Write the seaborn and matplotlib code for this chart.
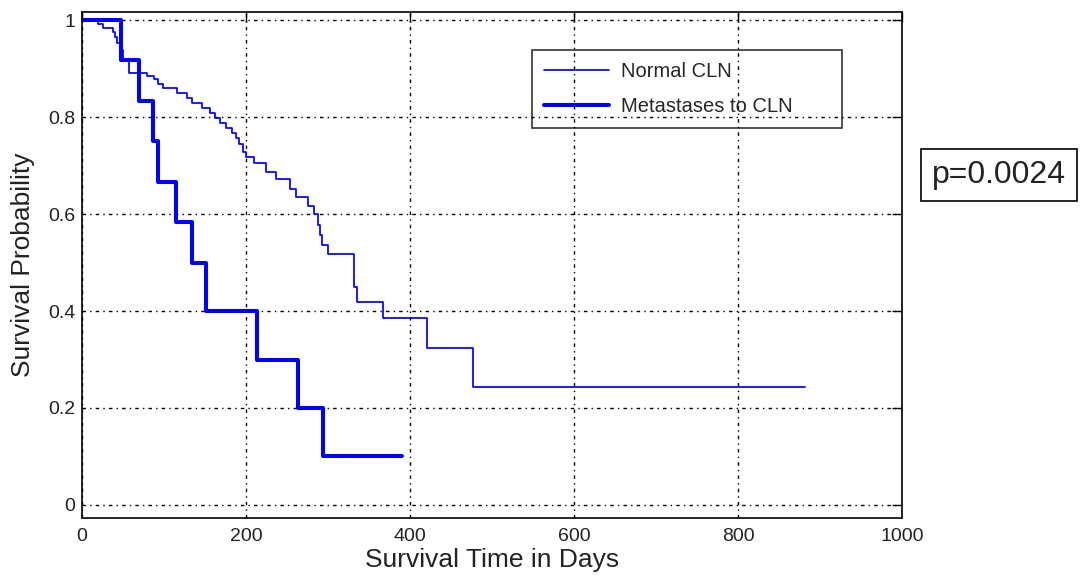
"""
Kaplan-Meier survival curves: normal CLN vs metastases to CLN.
Step values read off the reference chart.
"""

import matplotlib
matplotlib.use("Agg")
import matplotlib.pyplot as plt
import pandas as pd
import seaborn as sns

# Normal CLN: day of each drop and survival after it (last point = end of follow-up)
NORMAL_DAYS = [0, 20, 26, 38, 40, 43, 46, 50, 57, 79, 88, 93, 99, 116, 128, 134,
               146, 156, 162, 168, 176, 183, 188, 191, 196, 200, 210, 224, 237,
               254, 261, 276, 283, 288, 290, 293, 300, 332, 335, 367, 421, 477, 882]
NORMAL_SURV = [1.0, 0.992, 0.984, 0.975, 0.965, 0.953, 0.938, 0.918, 0.891, 0.885,
               0.878, 0.868, 0.860, 0.849, 0.839, 0.829, 0.819, 0.808, 0.798, 0.788,
               0.777, 0.767, 0.757, 0.744, 0.728, 0.718, 0.705, 0.687, 0.672, 0.652,
               0.635, 0.616, 0.600, 0.577, 0.557, 0.536, 0.517, 0.449, 0.419, 0.386,
               0.324, 0.243, 0.243]

# Metastases to CLN
MET_DAYS = [0, 48, 70, 86, 93, 115, 134, 151, 213, 263, 294, 390]
MET_SURV = [1.0, 0.917, 0.833, 0.75, 0.667, 0.583, 0.5, 0.4, 0.3, 0.2, 0.1, 0.1]

LABELS = ["Normal CLN", "Metastases to CLN"]
X_TICKS = [0, 200, 400, 600, 800, 1000]
Y_TICKS = [0, 0.2, 0.4, 0.6, 0.8, 1.0]
Y_TICK_LABELS = ["0", "0.2", "0.4", "0.6", "0.8", "1"]
P_TEXT = "p=0.0024"

sns.set_theme(style="white")
plt.rcParams["font.family"] = ["Liberation Sans", "DejaVu Sans"]

fig = plt.figure(figsize=(10.92, 5.8), dpi=100)
ax = fig.add_axes([82 / 1092, 1 - 518 / 580, 820 / 1092, 506 / 580])

normal = pd.DataFrame({"day": NORMAL_DAYS, "surv": NORMAL_SURV})
met = pd.DataFrame({"day": MET_DAYS, "surv": MET_SURV})

sns.lineplot(data=normal, x="day", y="surv", ax=ax, color="#0000ff",
             linewidth=1.25, drawstyle="steps-post", label=LABELS[0])
sns.lineplot(data=met, x="day", y="surv", ax=ax, color="#0000ff",
             linewidth=2.9, drawstyle="steps-post", label=LABELS[1])

ax.set_xlim(0, 1000)
ax.set_ylim(-0.027, 1.017)
ax.set_xticks(X_TICKS)
ax.set_xticklabels([str(t) for t in X_TICKS])
ax.set_yticks(Y_TICKS)
ax.set_yticklabels(Y_TICK_LABELS)

# matlab-style dotted grid, rendered as dash-dot in the reference
ax.grid(True, color="black", linestyle=(0, (2.5, 3, 1, 3)), linewidth=1.0)
ax.tick_params(direction="in", length=7, width=1, colors="black",
               top=True, right=True, labelsize=14, labelcolor="#222222")
ax.tick_params(axis="x", pad=7)
ax.tick_params(axis="y", pad=5)
for spine in ax.spines.values():
    spine.set_color("black")
    spine.set_linewidth(1.2)

ax.set_xlabel("Survival Time in Days", fontsize=19, color="#222222", labelpad=2)
ax.set_ylabel("Survival Probability", fontsize=19, color="#222222", labelpad=9)

leg = ax.legend(loc="upper left", bbox_to_anchor=(0.549, 0.925, 0.378, 0.0),
                mode="expand", fontsize=14.5, frameon=True, fancybox=False,
                edgecolor="black", facecolor="none", framealpha=None,
                handlelength=3.2, handletextpad=0.6, labelspacing=0.8,
                borderpad=0.6, borderaxespad=0)
leg.get_frame().set_linewidth(1.2)

fig.text(999 / 1092, 1 - 175 / 580, P_TEXT, ha="center", va="center",
         fontsize=23, color="#222222",
         bbox=dict(boxstyle="square,pad=0.35", fc="white", ec="black", lw=1.2))

fig.savefig("out.png", dpi=100)
